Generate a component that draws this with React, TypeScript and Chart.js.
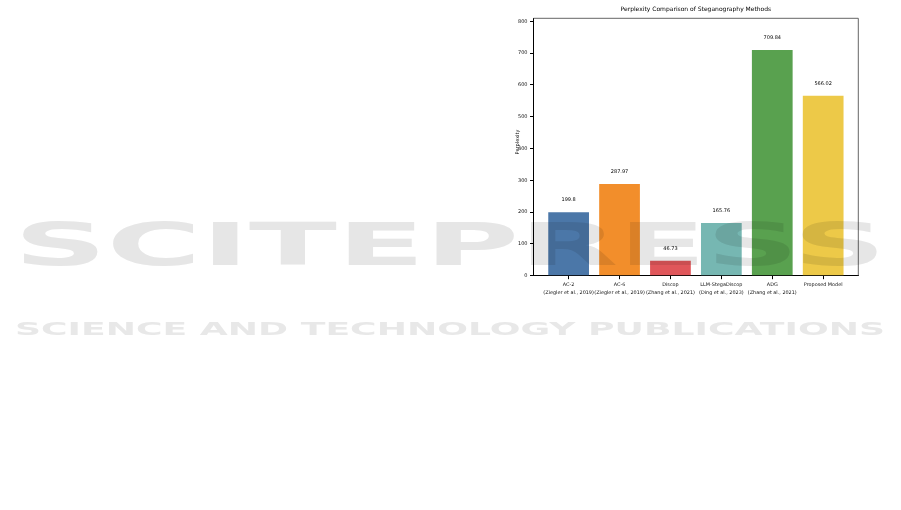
import React, { useEffect, useRef } from "react";
import { Chart, registerables } from "chart.js";

Chart.register(...registerables);

const categories: string[][] = [
  ["AC-2", "(Ziegler et al., 2019)"],
  ["AC-6", "(Ziegler et al., 2019)"],
  ["Discop", "(Zhang et al., 2021)"],
  ["LLM-StegaDiscop", "(Ding et al., 2023)"],
  ["ADG", "(Zhang et al., 2021)"],
  ["Proposed Model"],
];
const perplexity = [199.8, 287.97, 46.73, 165.76, 709.84, 566.02];
const barColors = ["#4B77A8", "#F28E2B", "#E0565A", "#76B7B2", "#59A14F", "#EDC948"];
const yTicks = [0, 100, 200, 300, 400, 500, 600, 700, 800];
const chartTitle = "Perplexity Comparison of Steganography Methods";
const yTitle = "Perplexity";

const FONT = "DejaVu Sans";

export default function App() {
  const ref = useRef<HTMLCanvasElement | null>(null);

  useEffect(() => {
    if (!ref.current) return;
    const overlay = {
      id: "overlay",
      afterDraw(chart: any) {
        const { ctx, chartArea } = chart;
        const { left, right, top, bottom } = chartArea;
        ctx.save();
        // top & right spines
        ctx.strokeStyle = "#555";
        ctx.lineWidth = 0.9;
        ctx.beginPath();
        ctx.moveTo(left, top);
        ctx.lineTo(right, top);
        ctx.lineTo(right, bottom);
        ctx.stroke();
        // title
        ctx.fillStyle = "#000";
        ctx.textAlign = "center";
        ctx.textBaseline = "middle";
        ctx.font = `6px '${FONT}'`;
        ctx.fillText(chartTitle, (left + right) / 2, 9.5);
        // value labels
        ctx.font = `5px '${FONT}'`;
        const meta = chart.getDatasetMeta(0);
        meta.data.forEach((bar: any, i: number) => {
          ctx.fillText(String(perplexity[i]), bar.x, bar.y - 12);
        });
        // y title
        ctx.save();
        ctx.translate(517.5, (top + bottom) / 2 - 5);
        ctx.rotate(-Math.PI / 2);
        ctx.fillText(yTitle, 0, 0);
        ctx.restore();
        ctx.restore();
      },
    };

    const chart = new Chart(ref.current, {
      type: "bar",
      data: {
        datasets: [
          {
            data: perplexity.map((v, i) => ({ x: i, y: v })) as any,
            backgroundColor: barColors,
            barPercentage: 0.8,
            categoryPercentage: 1,
          },
        ],
      },
      options: {
        responsive: false,
        animation: false,
        devicePixelRatio: 1,
        layout: { padding: { left: 0, right: 42.7, top: 18.3, bottom: 0 } },
        plugins: { legend: { display: false }, tooltip: { enabled: false }, title: { display: false } },
        scales: {
          x: {
            type: "linear",
            min: -0.69,
            max: 5.69,
            offset: false,
            afterBuildTicks: (s: any) => {
              s.ticks = categories.map((_, i) => ({ value: i }));
            },
            afterFit: (s: any) => {
              s.height = 510 - 275.7;
            },
            ticks: {
              autoSkip: false,
              maxRotation: 0,
              includeBounds: false,
              padding: 1.5,
              color: "#111",
              font: { family: FONT, size: 4.9, lineHeight: 1.65 },
              callback: (v: any) => categories[v] ?? "",
            },
            grid: { display: true, drawOnChartArea: false, drawTicks: true, tickLength: 3.5, color: "#000", offset: false },
            border: { display: true, color: "#000", width: 1 },
          },
          y: {
            min: 0,
            max: 709.84 * 1.14,
            afterBuildTicks: (s: any) => {
              s.ticks = yTicks.map((v) => ({ value: v }));
            },
            afterFit: (s: any) => {
              s.width = 533.5;
            },
            ticks: {
              includeBounds: false,
              padding: 2.5,
              color: "#111",
              font: { family: FONT, size: 5 },
            },
            grid: { display: true, drawOnChartArea: false, drawTicks: true, tickLength: 3.5, color: "#000" },
            border: { display: true, color: "#000", width: 1 },
          },
        },
      } as any,
      plugins: [overlay],
    });
    return () => chart.destroy();
  }, []);

  return (
    <div style={{ position: "absolute", left: 0, top: 0, width: 901, height: 510, background: "#fff" }}>
      <canvas ref={ref} width={901} height={510} style={{ position: "absolute", left: 0, top: 0, width: 901, height: 510, display: "block" }} />
      <svg
        width={901}
        height={510}
        style={{ position: "absolute", left: 0, top: 0, pointerEvents: "none", mixBlendMode: "multiply" }}
      >
        <text x={14} y={265} textLength={872} lengthAdjust="spacingAndGlyphs" fontFamily={FONT} fontWeight="bold" fontSize={58} fill="#e6e6e6">
          SCITEPRESS
        </text>
        <text x={15} y={335} textLength={870} lengthAdjust="spacingAndGlyphs" fontFamily={FONT} fontWeight="bold" fontSize={18.5} fill="#e8e8e8">
          SCIENCE AND TECHNOLOGY PUBLICATIONS
        </text>
      </svg>
    </div>
  );
}
